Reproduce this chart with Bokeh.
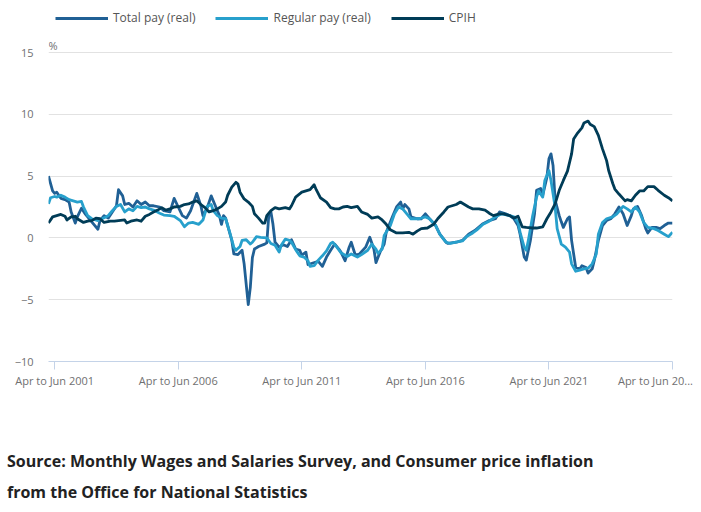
from bokeh.plotting import figure
from bokeh.models import Range1d, FixedTicker, Legend, LegendItem, Label, Div
from bokeh.layouts import column
from bokeh.embed import file_html
from bokeh.resources import INLINE

FONT = "Open Sans"

# month index: 0 = "Jan to Mar 2001"
tick_positions = [3, 63, 123, 183, 243, 303]
tick_labels = ["Apr to Jun 2001", "Apr to Jun 2006", "Apr to Jun 2011",
               "Apr to Jun 2016", "Apr to Jun 2021", "Apr to Jun 20..."]
y_ticks = [-10, -5, 0, 5, 10, 15]

total_x = [0, 2, 3, 4, 6, 8, 10, 11, 13, 14, 16, 18, 20, 22, 24, 25, 27, 29, 31, 33,
           34, 36, 37, 39, 41, 43, 45, 47, 49, 51, 54, 56, 59, 61, 63, 65, 67, 69, 72, 74,
           75, 77, 79, 81, 83, 84, 85, 86, 89, 90, 92, 94, 95, 97, 98, 99, 100, 102, 105, 106,
           107, 108, 109, 110, 112, 114, 116, 118, 120, 122, 123, 125, 126, 128, 131, 133, 135, 137, 139, 141,
           142, 144, 146, 147, 149, 151, 154, 156, 158, 159, 161, 163, 164, 167, 169, 171, 172, 173, 175, 176,
           179, 181, 183, 185, 188, 190, 193, 194, 198, 201, 204, 207, 211, 214, 217, 219, 222, 224, 226, 228,
           229, 231, 232, 234, 236, 237, 239, 240, 242, 243, 244, 245, 246, 248, 249, 250, 252, 253, 254, 256,
           258, 259, 261, 262, 264, 265, 267, 269, 271, 273, 275, 277, 279, 281, 283, 284, 286, 288, 290, 291,
           293, 295, 297, 299, 301, 303]
total_pay = [5.0, 3.8, 3.6, 3.7, 3.2, 3.1, 2.9, 2.1, 1.2, 1.7, 2.4, 1.9, 1.5, 1.1, 0.7, 1.4, 1.8, 1.6, 2.1, 2.6,
             3.9, 3.4, 2.7, 2.8, 2.5, 3.0, 2.7, 2.9, 2.6, 2.6, 2.5, 2.2, 2.1, 3.2, 2.5, 1.8, 1.6, 2.2, 3.6, 2.6,
             1.8, 2.4, 3.4, 2.6, 1.8, 1.1, 1.8, 1.6, -0.2, -1.3, -1.35, -1.0, -2.1, -5.4, -4.0, -1.6, -0.9, -0.7, -0.5, -0.4,
             1.9, 2.1, 1.1, -0.35, -0.75, -0.55, -0.7, -0.15, -0.9, -1.0, -1.4, -1.15, -2.15, -2.05, -1.9, -2.3, -1.55, -1.0, -0.5, -0.9,
             -1.15, -1.85, -0.75, -0.35, -1.4, -1.3, -0.75, 0.05, -0.9, -2.0, -1.15, -0.5, 0.45, 1.7, 2.5, 2.9, 2.35, 2.7, 2.35, 1.7,
             1.55, 1.55, 1.95, 1.55, 1.0, 0.3, -0.35, -0.45, -0.35, -0.2, 0.3, 0.6, 1.15, 1.4, 1.55, 2.1, 1.95, 1.8, 1.55, 1.0,
             0.3, -1.55, -1.8, -0.2, 1.95, 3.85, 4.0, 3.45, 4.9, 6.4, 6.8, 5.85, 3.05, 1.8, 1.3, 0.85, 1.55, 1.7, -0.2, -2.4,
             -2.5, -2.25, -2.4, -2.85, -2.5, -1.85, -0.2, 1.0, 1.4, 1.55, 1.95, 2.5, 1.95, 1.0, 1.8, 2.35, 2.55, 1.8, 0.75, 0.4,
             0.85, 0.85, 0.75, 1.0, 1.2, 1.2]

regular_x = [0, 1, 3, 4, 6, 8, 10, 12, 14, 16, 17, 19, 21, 24, 26, 29, 31, 33, 35, 37,
             39, 41, 43, 45, 47, 49, 51, 54, 56, 59, 61, 64, 66, 68, 70, 73, 75, 77, 79, 80,
             82, 84, 86, 88, 90, 91, 93, 94, 96, 98, 99, 101, 103, 106, 108, 110, 112, 113, 115, 117,
             118, 120, 122, 124, 126, 127, 129, 131, 133, 135, 137, 138, 140, 142, 145, 147, 150, 152, 155, 157,
             159, 160, 162, 163, 166, 168, 170, 172, 174, 176, 180, 183, 185, 188, 190, 193, 195, 198, 201, 203,
             206, 208, 211, 214, 217, 220, 224, 226, 228, 229, 231, 232, 233, 235, 237, 238, 240, 241, 243, 244,
             246, 247, 249, 251, 253, 254, 256, 258, 260, 262, 264, 266, 267, 269, 271, 274, 276, 279, 281, 283,
             285, 287, 289, 291, 294, 296, 299, 301, 303]
regular_pay = [2.75, 3.25, 3.35, 3.3, 3.45, 3.3, 3.1, 3.0, 2.9, 2.95, 2.5, 1.8, 1.55, 1.4, 1.55, 1.8, 2.2, 2.55, 2.7, 2.1,
               2.35, 2.2, 2.55, 2.45, 2.5, 2.35, 2.25, 2.0, 1.85, 1.8, 1.75, 1.4, 0.9, 1.2, 1.25, 1.1, 1.45, 2.55, 2.7, 2.2,
               1.8, 1.6, 1.55, 0.45, -0.75, -1.0, -0.7, -0.2, -0.15, -0.5, -0.35, 0.1, 0.05, 0.0, -0.45, -0.6, -1.15, -0.6, -0.1, -0.2,
               -0.35, -0.95, -1.45, -1.55, -1.85, -2.3, -2.25, -1.8, -1.45, -1.05, -0.45, -0.35, -0.75, -1.2, -1.5, -1.3, -1.55, -1.35, -1.0, -0.5,
               -0.9, -1.25, -0.9, 0.2, 1.0, 1.95, 2.5, 2.35, 1.95, 1.55, 1.55, 1.7, 1.55, 1.0, 0.3, -0.35, -0.45, -0.35, -0.25, 0.1,
               0.4, 0.65, 1.1, 1.35, 1.7, 1.95, 1.8, 1.7, 1.25, 0.45, -0.75, -1.0, -0.2, 1.7, 3.3, 3.8, 3.3, 4.65, 5.45, 4.65,
               2.5, 0.75, -0.5, -0.75, -1.15, -2.1, -2.7, -2.6, -2.5, -2.45, -2.1, -1.3, 0.3, 1.25, 1.55, 1.7, 1.95, 2.55, 2.35, 2.1,
               2.5, 2.1, 1.25, 0.85, 0.75, 0.6, 0.3, 0.1, 0.45]

cpih_x = [0, 2, 4, 6, 8, 9, 11, 13, 14, 17, 19, 21, 23, 25, 27, 30, 32, 34, 37, 38,
          40, 43, 45, 47, 49, 51, 53, 55, 57, 59, 61, 64, 66, 68, 70, 72, 74, 76, 78, 80,
          82, 84, 86, 87, 89, 91, 92, 93, 95, 97, 99, 100, 102, 104, 105, 106, 108, 110, 112, 115,
          117, 118, 120, 123, 125, 127, 129, 130, 132, 135, 137, 139, 141, 143, 145, 147, 150, 152, 155, 157,
          160, 162, 164, 166, 169, 172, 175, 177, 179, 181, 184, 187, 189, 192, 194, 196, 198, 200, 202, 204,
          206, 209, 212, 214, 216, 219, 221, 224, 226, 228, 230, 232, 235, 237, 240, 242, 244, 246, 248, 250,
          252, 254, 255, 257, 259, 260, 262, 263, 265, 267, 269, 271, 272, 274, 275, 277, 280, 281, 283, 285,
          287, 289, 291, 294, 296, 299, 301, 303]
cpih = [1.2, 1.7, 1.8, 1.9, 1.75, 1.45, 1.7, 1.75, 1.55, 1.25, 1.35, 1.4, 1.6, 1.55, 1.25, 1.35, 1.35, 1.4, 1.45, 1.2,
        1.35, 1.45, 1.35, 1.75, 1.9, 2.1, 2.25, 2.45, 2.25, 2.35, 2.5, 2.55, 2.7, 2.75, 2.9, 3.0, 2.7, 2.45, 2.1, 2.2,
        2.35, 2.55, 2.9, 3.45, 4.1, 4.5, 4.35, 3.7, 3.15, 2.9, 2.55, 1.95, 1.6, 1.2, 1.2, 1.8, 2.2, 2.45, 2.35, 2.45,
        2.35, 2.6, 3.3, 3.7, 3.8, 3.9, 4.3, 3.9, 3.25, 2.9, 2.45, 2.35, 2.35, 2.5, 2.55, 2.45, 2.55, 2.1, 1.9, 1.6,
        1.7, 1.45, 1.1, 0.65, 0.4, 0.4, 0.45, 0.3, 0.55, 0.75, 0.8, 1.1, 1.55, 2.1, 2.5, 2.6, 2.7, 2.9, 2.7, 2.5,
        2.35, 2.35, 2.25, 2.0, 1.8, 1.95, 1.95, 1.8, 1.6, 1.75, 0.9, 0.85, 0.8, 0.8, 0.9, 1.55, 2.1, 2.75, 3.85, 4.65,
        5.4, 6.8, 8.0, 8.5, 8.9, 9.3, 9.45, 9.2, 9.0, 8.3, 7.2, 6.25, 5.45, 4.4, 3.95, 3.55, 3.0, 3.1, 3.0, 3.45,
        3.8, 3.8, 4.15, 4.15, 3.85, 3.45, 3.25, 3.0]

series_names = ["Total pay (real)", "Regular pay (real)", "CPIH"]
series_colors = ["#206095", "#27a0cc", "#003c57"]

# layout constants (pixels)
FRAME_LEFT, FRAME_RIGHT_BORDER = 48, 29
HEADER_PX = 48          # room above the 15 gridline for the legend and "%" unit
PLOT_PX = 309           # height between the 15 and -10 gridlines
px_per_unit = PLOT_PX / (y_ticks[-1] - y_ticks[0])
y_top = y_ticks[-1] + HEADER_PX / px_per_unit

p = figure(width=701, height=400, x_range=Range1d(0, tick_positions[-1]),
           y_range=Range1d(y_ticks[0], y_top),
           output_backend="svg", toolbar_location=None,
           min_border_left=FRAME_LEFT, min_border_right=FRAME_RIGHT_BORDER,
           min_border_top=4, min_border_bottom=39)
p.outline_line_color = None
p.background_fill_color = "white"
p.border_fill_color = "white"
p.xgrid.visible = False
p.ygrid.grid_line_color = "#e2e2e2"
p.ygrid.grid_line_width = 1

p.yaxis.ticker = FixedTicker(ticks=y_ticks)
p.yaxis.axis_line_color = None
p.yaxis.major_tick_line_color = None
p.yaxis.minor_tick_line_color = None
p.yaxis.major_tick_out = 0
p.yaxis.major_tick_in = 0
p.yaxis.major_label_standoff = 15
p.yaxis.major_label_text_font = FONT
p.yaxis.major_label_text_font_size = "11px"
p.yaxis.major_label_text_color = "#707071"

p.xaxis.ticker = FixedTicker(ticks=tick_positions)
overrides = {t: l for t, l in zip(tick_positions, tick_labels)}
# last label sits flush against the chart's right edge, as in the original
overrides[tick_positions[-1]] = tick_labels[-1] + "\u00a0" * 3
p.xaxis.major_label_overrides = overrides
p.xaxis.axis_line_color = "#c4d3e8"
p.xaxis.major_tick_line_color = "#c4d3e8"
p.xaxis.minor_tick_line_color = None
p.xaxis.major_tick_out = 8
p.xaxis.major_tick_in = 0
p.xaxis.major_label_standoff = 3
p.xaxis.major_label_text_font = FONT
p.xaxis.major_label_text_font_size = "11px"
p.xaxis.major_label_text_color = "#707071"

r_total = p.line(total_x, total_pay, line_color=series_colors[0], line_width=2.8, line_join="round")
r_reg = p.line(regular_x, regular_pay, line_color=series_colors[1], line_width=2.8, line_join="round")
r_cpih = p.line(cpih_x, cpih, line_color=series_colors[2], line_width=2.8, line_join="round")

legend = Legend(items=[LegendItem(label=series_names[0], renderers=[r_total]),
                       LegendItem(label=series_names[1], renderers=[r_reg]),
                       LegendItem(label=series_names[2], renderers=[r_cpih])],
                location=(7, PLOT_PX + HEADER_PX - 22), orientation="horizontal",
                glyph_width=53, glyph_height=14, label_height=14, label_standoff=5,
                spacing=20, padding=0, margin=0,
                border_line_color=None, background_fill_alpha=0,
                label_text_font=FONT, label_text_font_size="12px", label_text_color="#555555")
p.add_layout(legend, "center")

p.add_layout(Label(x=0, y=y_ticks[-1], text="%", text_font=FONT, text_font_size="11px",
                   text_color="#707071", text_baseline="bottom", y_offset=0))

src = Div(text=('<div style="font-family:\'Open Sans\',sans-serif;font-weight:700;font-size:16px;'
                'line-height:31px;color:#222222;padding-top:46px;padding-left:7px;white-space:nowrap">'
                'Source: Monthly Wages and Salaries Survey, and Consumer price inflation<br>'
                'from the Office for National Statistics</div>'),
          width=701, height=108, margin=(0, 0, 0, 0))

layout = column(p, src, spacing=0)
open("out.html", "w").write(file_html(layout, INLINE))
